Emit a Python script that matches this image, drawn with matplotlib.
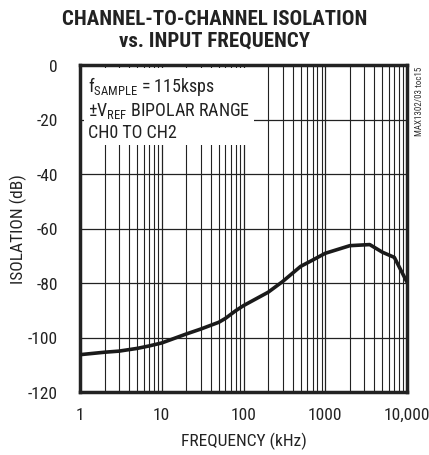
import matplotlib
matplotlib.use("Agg")
import matplotlib.pyplot as plt
from matplotlib.ticker import FixedLocator, NullFormatter

freq_khz = [1, 2, 3, 5, 7, 10, 20, 30, 50, 60, 80, 100, 200, 300, 500, 700,
            1000, 2000, 3500, 5000, 7000, 10000]
isolation_db = [-106.3, -105.4, -105.0, -104.0, -103.1, -102.0, -98.7, -96.9,
                -94.4, -93.0, -90.2, -88.3, -83.4, -79.5, -73.9, -71.6,
                -69.1, -66.3, -65.9, -68.7, -70.6, -79.7]
x_ticks = [1, 10, 100, 1000, 10000]
x_tick_labels = ["1", "10", "100", "1000", "10,000"]
y_ticks = [0, -20, -40, -60, -80, -100, -120]
y_tick_labels = ["0", "-20", "-40", "-60", "-80", "-100", "-120"]

FONT = ["Roboto Condensed", "DejaVu Sans"]
plt.rcParams["font.family"] = FONT
plt.rcParams["mathtext.fontset"] = "custom"
plt.rcParams["mathtext.rm"] = "Roboto Condensed"
plt.rcParams["mathtext.it"] = "Roboto Condensed:italic"
plt.rcParams["mathtext.bf"] = "Roboto Condensed:bold"

fig = plt.figure(figsize=(4.29, 4.56), dpi=100)
ax = fig.add_axes([80/429, 1 - 393/456, 327/429, 327/456])

ax.set_xscale("log")
ax.set_xlim(1, 10000)
ax.set_ylim(-120, 0)

minor = [m * 10**d for d in range(4) for m in range(2, 10)]
ax.xaxis.set_major_locator(FixedLocator(x_ticks))
ax.xaxis.set_minor_locator(FixedLocator(minor))
ax.xaxis.set_minor_formatter(NullFormatter())
ax.set_xticks(x_ticks, x_tick_labels)
ax.set_yticks(y_ticks, y_tick_labels)

ax.grid(True, which="major", color="#222222", lw=0.9)
ax.grid(True, which="minor", axis="x", color="#222222", lw=0.8)
ax.tick_params(which="both", length=0, labelsize=12.5, colors="#222222")
ax.tick_params(axis="y", pad=16)
ax.tick_params(axis="x", pad=11)
for s in ax.spines.values():
    s.set_linewidth(2.5)
    s.set_color("#222222")

ax.plot(freq_khz, isolation_db, color="#1a1a1a", lw=2.6, solid_capstyle="butt", zorder=3)

ax.set_xlabel("FREQUENCY (kHz)", fontsize=12.5, color="#222222", labelpad=7)
ax.set_ylabel("ISOLATION (dB)", fontsize=12.5, color="#222222", va="center")
ax.yaxis.set_label_coords((18 - 80) / 327, 0.5)

fig.text(0.5, 1 - 10/456, "CHANNEL-TO-CHANNEL ISOLATION\nvs. INPUT FREQUENCY",
         ha="center", va="top", fontsize=15, fontweight="bold", color="#222222",
         linespacing=1.2)

ax.text(0.025, 0.972,
        "f$_{\\rm SAMPLE}$ = 115ksps\n\u00b1V$_{\\rm REF}$ BIPOLAR RANGE\nCH0 TO CH2",
        transform=ax.transAxes, ha="left", va="top", fontsize=13, color="#222222",
        linespacing=1.2,
        bbox=dict(facecolor="white", edgecolor="none", pad=3), zorder=4)

fig.text(420/429, 1 - 67/456, "MAX1302/03 toc15", rotation=90, ha="center", va="top",
         fontsize=6.5, color="#333333")

fig.savefig("out.png", dpi=100)
